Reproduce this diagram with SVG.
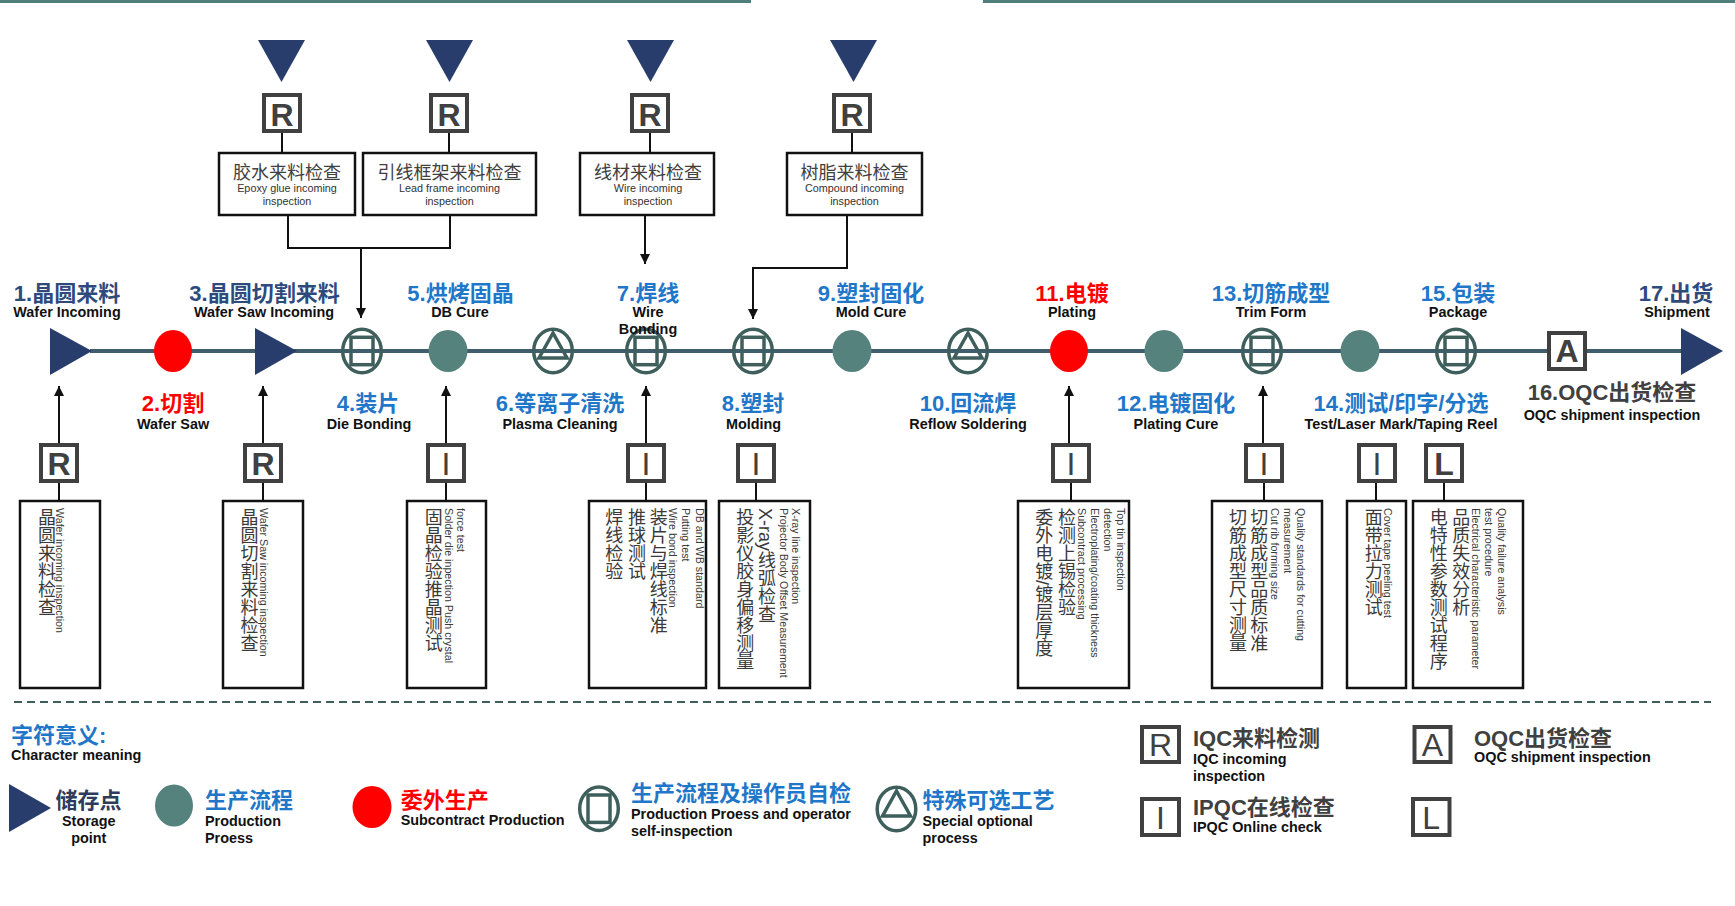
<svg xmlns="http://www.w3.org/2000/svg" width="1735" height="906" viewBox="0 0 1735 906">
<defs>
<style>
text{font-family:"Liberation Sans","Noto Sans CJK SC",sans-serif;}
.t{font-size:22px;font-weight:bold;text-anchor:middle}
.navy{fill:#2e4a7d}
.blue{fill:#1f77c9}
.red{fill:#ff0000}
.gray{fill:#404040}
.en{font-size:14.4px;font-weight:bold;fill:#111;text-anchor:middle}
.enl{font-size:14.4px;font-weight:bold;fill:#111}
.lg{font-size:22px;font-weight:bold}
.box{fill:#fff;stroke:#111;stroke-width:2.5}
.qb{fill:#fff;stroke:#404040;stroke-width:4}
.ql{font-size:32px;font-weight:bold;fill:#404040;text-anchor:middle}
.qi{font-size:32px;fill:#404040;text-anchor:middle}
.qn{font-size:32px;fill:#404040;text-anchor:middle}
.cs{fill:none;stroke:#3e5f5b;stroke-width:3.5}
.teal{fill:#56827d}
.redf{fill:#ff0000}
.navyf{fill:#283d6b}
.cn{font-size:18px;fill:#404040;text-anchor:middle}
.sm{font-size:10.8px;fill:#333;text-anchor:middle}
.vc{font-size:18px;fill:#3a3a3a;writing-mode:vertical-rl}
.vs{font-size:10.7px;fill:#3a3a3a;writing-mode:vertical-rl}
.conn{stroke:#111;stroke-width:2;fill:none}
.main{stroke:#405d6e;stroke-width:4;fill:none}
</style>
<marker id="arr" markerWidth="10" markerHeight="10" refX="10" refY="5" orient="auto" markerUnits="userSpaceOnUse">
<path d="M0,0 L10,5 L0,10 z" fill="#111"/>
</marker>
<g id="csym"><ellipse cx="0" cy="0" rx="19.3" ry="21.7" class="cs"/><rect x="-11" y="-13.7" width="22" height="27.4" class="cs"/></g>
<g id="tsym"><ellipse cx="0" cy="0" rx="19.3" ry="21.7" class="cs"/><path d="M0,-18 L-14,7 L14,7 Z" class="cs"/></g>
</defs>

<rect x="0" y="0" width="751" height="3" fill="#4f7f7a"/>
<rect x="983" y="0" width="752" height="3" fill="#4f7f7a"/>

<g id="connectors">
<line class="main" x1="90" y1="351" x2="1684" y2="351"/>
<line class="conn" x1="282" y1="133" x2="282" y2="153"/>
<line class="conn" x1="449" y1="133" x2="449" y2="153"/>
<line class="conn" x1="650" y1="133" x2="650" y2="153"/>
<line class="conn" x1="852" y1="133" x2="852" y2="153"/>
<path class="conn" d="M288,215 V248 H450 V215"/>
<path class="conn" d="M361,248 V318" marker-end="url(#arr)"/>
<path class="conn" d="M645,215 V264" marker-end="url(#arr)"/>
<path class="conn" d="M847,215 V268 H753 V319" marker-end="url(#arr)"/>
<path class="conn" d="M59,443 V386" marker-end="url(#arr)"/>
<path class="conn" d="M263,443 V386" marker-end="url(#arr)"/>
<path class="conn" d="M446,443 V386" marker-end="url(#arr)"/>
<path class="conn" d="M646,443 V386" marker-end="url(#arr)"/>
<path class="conn" d="M1069,443 V386" marker-end="url(#arr)"/>
<path class="conn" d="M1263,443 V386" marker-end="url(#arr)"/>
<line class="conn" x1="59" y1="483" x2="59" y2="501"/>
<line class="conn" x1="263" y1="483" x2="263" y2="501"/>
<line class="conn" x1="446" y1="483" x2="446" y2="501"/>
<line class="conn" x1="646" y1="483" x2="646" y2="501"/>
<line class="conn" x1="756" y1="483" x2="756" y2="501"/>
<line class="conn" x1="1071" y1="483" x2="1071" y2="501"/>
<line class="conn" x1="1264" y1="483" x2="1264" y2="501"/>
<line class="conn" x1="1376" y1="483" x2="1376" y2="501"/>
<line class="conn" x1="1444" y1="483" x2="1444" y2="501"/>
<line x1="14" y1="702" x2="1711" y2="702" stroke="#3f5d5a" stroke-width="2" stroke-dasharray="8,5"/>
</g>

<g id="n1"><path d="M50,328 L92,351 L50,375 Z" class="navyf"/>
<text x="67" y="301" class="t navy">1.晶圆来料</text><text x="67" y="317" class="en">Wafer Incoming</text></g>
<g id="n2"><ellipse cx="173" cy="351" rx="19" ry="21" class="redf"/>
<text x="173" y="411" class="t red">2.切割</text><text x="173" y="429" class="en">Wafer Saw</text></g>
<g id="n3"><path d="M255,328 L297,351 L255,375 Z" class="navyf"/>
<text x="264.5" y="301" class="t navy">3.晶圆切割来料</text><text x="264" y="317" class="en">Wafer Saw Incoming</text></g>
<g id="n4"><use href="#csym" x="362" y="351"/>
<text x="368" y="411" class="t blue">4.装片</text><text x="369" y="429" class="en">Die Bonding</text></g>
<g id="n5"><ellipse cx="448" cy="351" rx="19.5" ry="21" class="teal"/>
<text x="460.5" y="301" class="t blue">5.烘烤固晶</text><text x="460" y="317" class="en">DB Cure</text></g>
<g id="n6"><use href="#tsym" x="553" y="351"/>
<text x="560" y="411" class="t blue">6.等离子清洗</text><text x="560" y="429" class="en">Plasma Cleaning</text></g>
<g id="n7"><use href="#csym" x="646" y="351"/>
<text x="648" y="301" class="t blue">7.焊线</text><text x="648" y="317" class="en">Wire</text><text x="648" y="334" class="en">Bonding</text></g>
<g id="n8"><use href="#csym" x="753" y="351"/>
<text x="753" y="411" class="t blue">8.塑封</text><text x="753.5" y="429" class="en">Molding</text></g>
<g id="n9"><ellipse cx="852" cy="351" rx="19.5" ry="21" class="teal"/>
<text x="871" y="301" class="t blue">9.塑封固化</text><text x="871" y="317" class="en">Mold Cure</text></g>
<g id="n10"><use href="#tsym" x="968" y="351"/>
<text x="968" y="411" class="t blue">10.回流焊</text><text x="968" y="429" class="en">Reflow Soldering</text></g>
<g id="n11"><ellipse cx="1069" cy="351" rx="19" ry="21" class="redf"/>
<text x="1072" y="301" class="t red">11.电镀</text><text x="1072" y="317" class="en">Plating</text></g>
<g id="n12"><ellipse cx="1164" cy="351" rx="19.5" ry="21" class="teal"/>
<text x="1176" y="411" class="t blue">12.电镀固化</text><text x="1176" y="429" class="en">Plating Cure</text></g>
<g id="n13"><use href="#csym" x="1262" y="351"/>
<text x="1271" y="301" class="t blue">13.切筋成型</text><text x="1271" y="317" class="en">Trim Form</text></g>
<g id="n14"><ellipse cx="1360" cy="351" rx="19.5" ry="21" class="teal"/>
<text x="1401" y="411" class="t blue">14.测试/印字/分选</text><text x="1401" y="429" class="en">Test/Laser Mark/Taping Reel</text></g>
<g id="n15"><use href="#csym" x="1456" y="351"/>
<text x="1458" y="301" class="t blue">15.包装</text><text x="1458" y="317" class="en">Package</text></g>
<g id="n16"><rect x="1549" y="333" width="36" height="36" class="qb"/><text x="1567" y="362" class="ql">A</text>
<text x="1612" y="400" class="t gray">16.OQC出货检查</text><text x="1612" y="420" class="en">OQC shipment inspection</text></g>
<g id="n17"><path d="M1681,328 L1723,351 L1681,375 Z" class="navyf"/>
<text x="1676" y="301" class="t navy">17.出货</text><text x="1677" y="317" class="en">Shipment</text></g>

<g id="m1"><path d="M258,40 L305,40 L281.5,82 Z" class="navyf"/>
<rect x="264" y="95" width="36" height="36" class="qb"/><text x="282" y="126" class="ql">R</text>
<rect x="219" y="153" width="136" height="62" class="box"/>
<text x="287" y="178.5" class="cn">胶水来料检查</text>
<text x="287" y="192" class="sm">Epoxy glue incoming</text><text x="287" y="205" class="sm">inspection</text></g>
<g id="m2"><path d="M426,40 L473,40 L449.5,82 Z" class="navyf"/>
<rect x="431" y="95" width="36" height="36" class="qb"/><text x="449" y="126" class="ql">R</text>
<rect x="363" y="153" width="173" height="62" class="box"/>
<text x="449.5" y="178.5" class="cn">引线框架来料检查</text>
<text x="449.5" y="192" class="sm">Lead frame incoming</text><text x="449.5" y="205" class="sm">inspection</text></g>
<g id="m3"><path d="M627,40 L674,40 L650.5,82 Z" class="navyf"/>
<rect x="632" y="95" width="36" height="36" class="qb"/><text x="650" y="126" class="ql">R</text>
<rect x="580" y="153" width="134" height="62" class="box"/>
<text x="648" y="178.5" class="cn">线材来料检查</text>
<text x="648" y="192" class="sm">Wire incoming</text><text x="648" y="205" class="sm">inspection</text></g>
<g id="m4"><path d="M830,40 L877,40 L853.5,82 Z" class="navyf"/>
<rect x="834" y="95" width="36" height="36" class="qb"/><text x="852" y="126" class="ql">R</text>
<rect x="787" y="153" width="135" height="62" class="box"/>
<text x="854.5" y="178.5" class="cn">树脂来料检查</text>
<text x="854.5" y="192" class="sm">Compound incoming</text><text x="854.5" y="205" class="sm">inspection</text></g>

<g id="q1"><rect x="41" y="445" width="36" height="36" class="qb"/><text x="59" y="475" class="ql">R</text>
<rect x="20" y="501" width="80" height="187" class="box"/>
<text x="45" y="508" class="vc">晶圆来料检查</text><text x="60" y="508" class="vs">Wafer incoming inspection</text></g>
<g id="q2"><rect x="245" y="445" width="36" height="36" class="qb"/><text x="263" y="475" class="ql">R</text>
<rect x="223" y="501" width="80" height="187" class="box"/>
<text x="247.5" y="508" class="vc">晶圆切割来料检查</text><text x="264" y="508" class="vs">Wafer Saw incoming inspection</text></g>
<g id="q4"><rect x="428" y="445" width="36" height="36" class="qb"/><text x="446" y="475" class="qi">I</text>
<rect x="407" y="501" width="79" height="187" class="box"/>
<text x="431.7" y="508" class="vc">固晶检验推晶测试</text><text x="448.8" y="508" class="vs">Solder die inpection Push crystal</text><text x="460.5" y="508" class="vs">force test</text></g>
<g id="q7"><rect x="628" y="445" width="36" height="36" class="qb"/><text x="646" y="475" class="qi">I</text>
<rect x="589" y="501" width="117" height="187" class="box"/>
<text x="612.3" y="508" class="vc">焊线检验</text><text x="635" y="508" class="vc">推球测试</text><text x="656.7" y="508" class="vc">装片与焊线标准</text>
<text x="673.2" y="508" class="vs">Wire bond inspection</text><text x="685.5" y="508" class="vs">Putting test</text><text x="699.5" y="508" class="vs">DB and WB standard</text></g>
<g id="q8"><rect x="738" y="445" width="36" height="36" class="qb"/><text x="756" y="475" class="qi">I</text>
<rect x="719" y="501" width="91" height="187" class="box"/>
<text x="743.3" y="508" class="vc">投影仪胶身偏移测量</text><text x="765" y="508" class="vc">X-ray线弧检查</text>
<text x="783.8" y="508" class="vs">Projector Body Offset Measurement</text><text x="795.5" y="508" class="vs">X-ray line inspection</text></g>
<g id="q11"><rect x="1053" y="445" width="36" height="36" class="qb"/><text x="1071" y="475" class="qi">I</text>
<rect x="1018" y="501" width="111" height="187" class="box"/>
<text x="1042.3" y="508" class="vc">委外电镀/镀层厚度</text><text x="1065" y="508" class="vc">检测上锡检验</text>
<text x="1081.5" y="508" class="vs">Subcontract processing</text><text x="1094.5" y="508" class="vs">Electroplating/coating thickness</text>
<text x="1107.8" y="508" class="vs">detection</text><text x="1120.5" y="508" class="vs">Top tin inspection</text></g>
<g id="q13"><rect x="1246" y="445" width="36" height="36" class="qb"/><text x="1264" y="475" class="qi">I</text>
<rect x="1212" y="501" width="110" height="187" class="box"/>
<text x="1236" y="508" class="vc">切筋成型尺寸测量</text><text x="1257.3" y="508" class="vc">切筋成型品质标准</text>
<text x="1274.5" y="508" class="vs">Cut rib forming size</text><text x="1287.8" y="508" class="vs">measurement</text><text x="1300.5" y="508" class="vs">Quality standards for cutting</text></g>
<g id="q14"><rect x="1359" y="445" width="36" height="36" class="qb"/><text x="1377" y="475" class="qi">I</text>
<rect x="1347" y="501" width="59" height="187" class="box"/>
<text x="1371.7" y="508" class="vc">面带拉力测试</text><text x="1388.2" y="508" class="vs">Cover tape peeling test</text></g>
<g id="q15"><rect x="1426" y="445" width="36" height="36" class="qb"/><text x="1444" y="475" class="ql">L</text>
<rect x="1413" y="501" width="110" height="187" class="box"/>
<text x="1436.7" y="508" class="vc">电特性参数测试程序</text><text x="1459.3" y="508" class="vc">品质失效分析</text>
<text x="1475.5" y="508" class="vs">Electrical characteristic parameter</text><text x="1488.8" y="508" class="vs">test procedure</text><text x="1502.2" y="508" class="vs">Quality failure analysis</text></g>

<g id="legend">
<text x="11" y="743" class="lg blue">字符意义:</text>
<text x="11" y="760" class="enl">Character meaning</text>
<path d="M9,784 L51,808 L9,832 Z" class="navyf"/>
<text x="55.5" y="808" class="lg" fill="#2e3b5c">储存点</text>
<text x="88.8" y="826" class="en">Storage</text><text x="88.8" y="843" class="en">point</text>
<ellipse cx="174" cy="805.5" rx="19" ry="21" class="teal"/>
<text x="205" y="808" class="lg blue">生产流程</text>
<text x="205" y="826" class="enl">Production</text><text x="205" y="843" class="enl">Proess</text>
<ellipse cx="372" cy="807" rx="19.5" ry="21" class="redf"/>
<text x="400.7" y="808" class="lg red">委外生产</text>
<text x="400.7" y="825" class="enl">Subcontract Production</text>
<use href="#csym" x="599" y="808.7"/>
<text x="631" y="801" class="lg blue">生产流程及操作员自检</text>
<text x="631" y="819" class="enl">Production Proess and operator</text><text x="631" y="836" class="enl">self-inspection</text>
<use href="#tsym" x="896.5" y="809"/>
<text x="922.5" y="808" class="lg blue">特殊可选工艺</text>
<text x="922.5" y="826" class="enl">Special optional</text><text x="922.5" y="843" class="enl">process</text>
<rect x="1142" y="727" width="37" height="35" class="qb"/><text x="1160.5" y="756" class="qn">R</text>
<text x="1193" y="746" class="lg gray">IQC来料检测</text>
<text x="1193" y="764" class="enl">IQC incoming</text><text x="1193" y="781" class="enl">inspection</text>
<rect x="1142" y="799" width="37" height="36" class="qb"/><text x="1160.5" y="829" class="qn">I</text>
<text x="1193" y="815" class="lg gray">IPQC在线检查</text>
<text x="1193" y="832" class="enl">IPQC Online check</text>
<rect x="1414.5" y="727" width="36" height="35" class="qb"/><text x="1432.5" y="756" class="qn">A</text>
<text x="1474" y="746" class="lg gray">OQC出货检查</text>
<text x="1474" y="762" class="enl">OQC shipment inspection</text>
<rect x="1413" y="799" width="36.5" height="36" class="qb"/><text x="1431.2" y="829" class="qn">L</text>
</g>
</svg>
